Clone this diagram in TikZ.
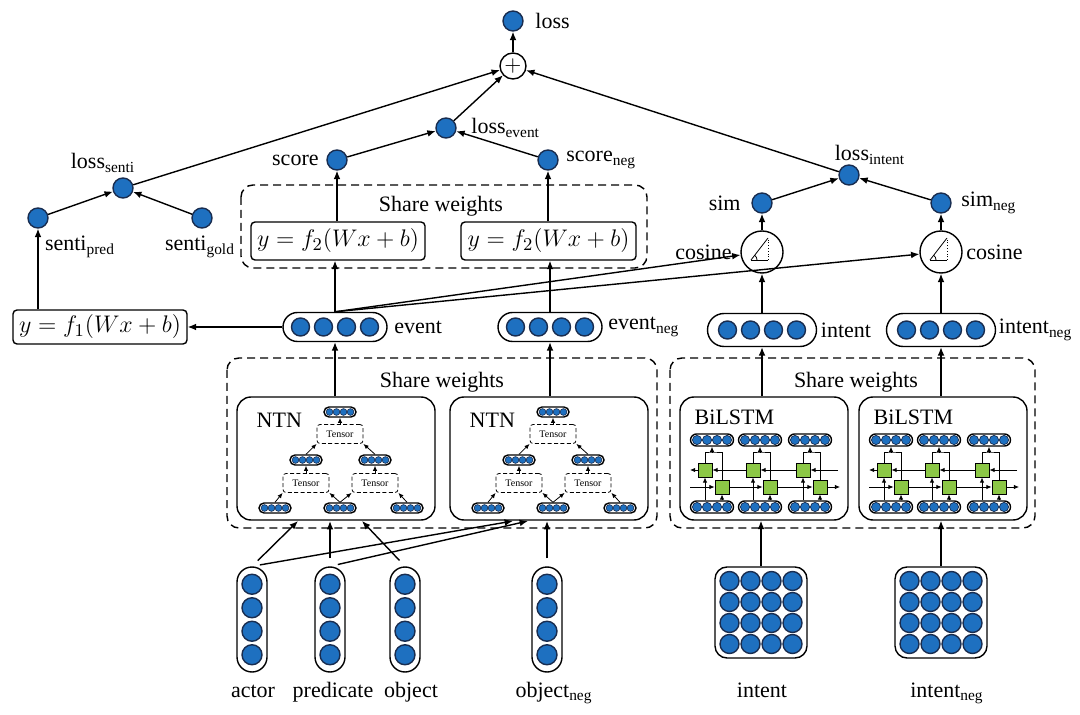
\documentclass[tikz,border=0pt]{standalone}
\usepackage{fontspec}
\setmainfont{Liberation Serif}
\usepackage{tikz}
\usetikzlibrary{arrows.meta,positioning,calc,shapes.misc}
\definecolor{unitblue}{RGB}{30,112,192}
\definecolor{unitedge}{RGB}{25,45,80}
\definecolor{gategreen}{RGB}{140,200,70}

\newcommand{\hvec}[6]{%
  \node[pill, minimum width=#5, minimum height=#6] (#1) at #2 {};
  \foreach \k in {-1.5,-0.5,0.5,1.5}
    \node[unit, #4] at ($(#1)+(\k*#3,0)$) {};
}
\newcommand{\vvec}[2]{%
  \node[draw, fill=white, rounded corners=7.5pt, minimum width=15pt, minimum height=52.5pt, inner sep=0pt] (#1) at #2 {};
  \foreach \k in {-1.5,-0.5,0.5,1.5}
    \node[unit] at ($(#1)+(0,\k*23.5)$) {};
}
\newcommand{\umat}[2]{%
  \node[draw, fill=white, rounded corners=6pt, minimum width=46pt, minimum height=45.5pt, inner sep=0pt] (#1) at #2 {};
  \foreach \i in {-1.5,-0.5,0.5,1.5}
    \foreach \j in {-1.5,-0.5,0.5,1.5}
      \node[unit, minimum size=9.5pt] at ($(#1)+(\i*21,\j*21)$) {};
}

\begin{document}
\begin{tikzpicture}[x=0.5pt, y=-0.5pt, line width=0.7pt, -{Latex[length=4.2pt,width=3.4pt]},
    font=\fontsize{11}{13}\selectfont]
  \tikzstyle{unit} = [circle, draw=unitedge, fill=unitblue, inner sep=0pt, minimum size=10pt]
  \tikzstyle{op} = [circle, draw, fill=white, inner sep=0pt]
  \tikzstyle{pill} = [rounded rectangle, draw, fill=white, inner sep=0pt]
  \tikzstyle{word} = [inner sep=1pt]
  \tikzstyle{func} = [draw, rounded corners=2pt, inner sep=0pt, minimum height=19pt, font=\fontsize{12.5}{15}\selectfont]
  \tikzstyle{block} = [draw, rounded corners=7pt, minimum height=61.5pt]
  \tikzstyle{share} = [-, draw, dash pattern=on 4pt off 2.5pt, rounded corners=6pt]
  \tikzstyle{tensor} = [draw, dash pattern=on 2pt off 1.2pt, rounded corners=1.5pt, minimum width=23pt, minimum height=9.5pt, inner sep=0pt, font=\fontsize{5}{6}\selectfont, line width=0.4pt]
  \tikzstyle{gate} = [draw, fill=gategreen, minimum size=7pt, inner sep=0pt, line width=0.4pt]
  \tikzstyle{small} = [line width=0.4pt, -{Latex[length=2.6pt,width=2.2pt]}]

  \useasboundingbox (0,0) rectangle (1080,715);

  % losses
  \node[unit] (loss) at (513,21) {};
  \node[word, right=4.5pt of loss] (losslab) {loss};
  \node[op, minimum size=13pt] (plus) at (513,66) {$+$};
  \node[unit] (lossevent) at (446,128) {};
  \node[word, right=6pt of lossevent] (lossevlab) {loss\textsubscript{event}};
  \node[unit] (score) at (337,160) {};
  \node[word, left=2.5pt of score] (scorelab) {score};
  \node[unit] (scoreneg) at (548,160) {};
  \node[word, right=2.5pt of scoreneg] (scoreneglab) {score\textsubscript{neg}};
  \node[unit] (losssenti) at (123,188) {};
  \node[word] (losssentilab) at (103,163) {loss\textsubscript{senti}};
  \node[unit] (sentipred) at (38,218) {};
  \node[word] (sentipredlab) at (80,247) {senti\textsubscript{pred}};
  \node[unit] (sentigold) at (202,218) {};
  \node[word] (sentigoldlab) at (200,247) {senti\textsubscript{gold}};
  \node[unit] (lossintent) at (849,175) {};
  \node[word] (lossintentlab) at (870,155) {loss\textsubscript{intent}};
  \node[unit] (sim) at (762,203) {};
  \node[word, left=4pt of sim] (simlab) {sim};
  \node[unit] (simneg) at (941,203) {};
  \node[word, right=3.5pt of simneg] (simneglab) {sim\textsubscript{neg}};

  % cosine
  \node[op, minimum size=21pt] (cosl) at (762,252) {};
  \node[op, minimum size=21pt] (cosr) at (941,252) {};
  \node[word, left=3pt of cosl] (coslab) {cosine};
  \node[word, right=0.5pt of cosr] (cosrlab) {cosine};
  \foreach \c in {cosl,cosr} {
    \draw[-, line width=0.4pt] ($(\c)+(-11,8)$) -- ($(\c)+(6,8)$);
    \draw[-, line width=0.4pt] ($(\c)+(-11,8)$) -- ($(\c)+(6,-14)$);
    \draw[-, line width=0.4pt, densely dotted] ($(\c)+(6,8)$) -- ($(\c)+(6,-14)$);
    \draw[-, line width=0.4pt] ($(\c)+(-5,8)$) arc[start angle=0, end angle=-52, radius=6];
  }

  % scoring layers
  \draw[share] (241,185) rectangle (647,268);
  \node[word] (swtop) at (441,206) {Share weights};
  \node[func, minimum width=87pt] (fl) at (338,241) {$y=f_2(Wx+b)$};
  \node[func, minimum width=87.5pt] (fr) at (548.5,241) {$y=f_2(Wx+b)$};
  \node[func, minimum width=87pt, minimum height=17pt] (fone) at (100,327) {$y=f_1(Wx+b)$};

  % embeddings
  \hvec{event}{(335,327)}{23}{minimum size=9pt}{52pt}{14.5pt}
  \node[word, right=2pt of event] (eventlab) {event};
  \hvec{eventneg}{(550,327)}{23}{minimum size=9pt}{52pt}{14.5pt}
  \node[word, right=1.5pt of eventneg] (eventneglab) {event\textsubscript{neg}};
  \hvec{intent}{(762,330)}{23}{minimum size=9pt}{54.5pt}{16.5pt}
  \node[word, right=0.5pt of intent] (intentlab) {intent};
  \hvec{intentneg}{(941,330)}{23}{minimum size=9pt}{54.5pt}{16.5pt}
  \node[word, right=0pt of intentneg] (intentneglab) {intent\textsubscript{neg}};

  \draw (plus) -- (loss);
  \draw (losssenti) -- (plus);
  \draw (lossevent) -- (plus);
  \draw (lossintent) -- (plus);
  \draw (score) -- (lossevent);
  \draw (scoreneg) -- (lossevent);
  \draw (sentipred) -- (losssenti);
  \draw (sentigold) -- (losssenti);
  \draw (fl.north -| score) -- (score);
  \draw (fr.north -| scoreneg) -- (scoreneg);
  \draw (fone.north -| sentipred) -- (sentipred);
  \draw (event.west) -- (fone.east);
  \draw (event.north) -- (event.north |- fl.south);
  \draw (eventneg.north) -- (eventneg.north |- fr.south);
  \draw (event.north) -- (cosl);
  \draw (event.north) -- (cosr);
  \draw (intent) -- (cosl);
  \draw (intentneg) -- (cosr);
  \draw (cosl) -- (sim);
  \draw (cosr) -- (simneg);
  \draw (sim) -- (lossintent);
  \draw (simneg) -- (lossintent);

  % event encoders
  \draw[share] (227,358) rectangle (657,528);
  \node[word] (swleft) at (442,382) {Share weights};
  \foreach \o/\n in {0/a,213/b} {
    \node[block, minimum width=99pt] (ntn\n) at (336+\o,458.5) {};
    \node[word, anchor=west] (ntnlab\n) at (254+\o,420) {NTN};
    \hvec{n\n-tv}{(340+\o,412)}{7}{minimum size=3.4pt, line width=0.3pt}{16pt}{5pt}
    \hvec{n\n-ml}{(306+\o,460)}{7}{minimum size=3.4pt, line width=0.3pt}{16pt}{5pt}
    \hvec{n\n-mr}{(375+\o,460)}{7}{minimum size=3.4pt, line width=0.3pt}{16pt}{5pt}
    \hvec{n\n-bl}{(275+\o,508)}{7}{minimum size=3.4pt, line width=0.3pt}{16pt}{5pt}
    \hvec{n\n-bm}{(340+\o,508)}{7}{minimum size=3.4pt, line width=0.3pt}{16pt}{5pt}
    \hvec{n\n-br}{(407+\o,508)}{7}{minimum size=3.4pt, line width=0.3pt}{16pt}{5pt}
    \node[tensor] (n\n-tt) at (340+\o,434) {Tensor};
    \node[tensor] (n\n-tl) at (306+\o,483) {Tensor};
    \node[tensor] (n\n-tr) at (375+\o,483) {Tensor};
    \draw[small] (n\n-bl.north) -- (n\n-tl.south west);
    \draw[small] (n\n-bm.north) -- (n\n-tl.south east);
    \draw[small] (n\n-bm.north) -- (n\n-tr.south west);
    \draw[small] (n\n-br.north) -- (n\n-tr.south east);
    \draw[small] (n\n-tl) -- (n\n-ml);
    \draw[small] (n\n-tr) -- (n\n-mr);
    \draw[small] (n\n-ml.north) -- (n\n-tt.south west);
    \draw[small] (n\n-mr.north) -- (n\n-tt.south east);
    \draw[small] (n\n-tt) -- (n\n-tv);
  }
  \draw (event |- ntna.north) -- (event);
  \draw (eventneg |- ntnb.north) -- (eventneg);

  % intent encoders
  \draw[share] (670,358) rectangle (1035,528);
  \node[word] (swright) at (856,382) {Share weights};
  \foreach \o/\n in {0/a,179/b} {
    \node[block, minimum width=84pt] (lstm\n) at (764+\o,458.5) {};
    \node[word, anchor=west] (lstmlab\n) at (692+\o,417) {BiLSTM};
    \foreach \x [count=\i] in {712,760,810} {
      \hvec{l\n-up\i}{(\x+\o,440)}{10}{minimum size=4.6pt, line width=0.35pt}{21.5pt}{6pt}
      \hvec{l\n-dn\i}{(\x+\o,507)}{10}{minimum size=4.6pt, line width=0.35pt}{21.5pt}{6pt}
      \node[gate] (l\n-bw\i) at (\x+\o-7,470) {};
      \node[gate] (l\n-fw\i) at (\x+\o+10,487) {};
      \coordinate (l\n-j\i) at (\x+\o,452);
      \draw[small] (l\n-dn\i.north -| l\n-bw\i) -- (l\n-bw\i);
      \draw[small] (l\n-dn\i.north -| l\n-fw\i) -- (l\n-fw\i);
      \draw[-, line width=0.4pt] (l\n-bw\i) |- (l\n-j\i) -| (l\n-fw\i);
      \draw[small] (l\n-j\i) -- (l\n-up\i);
    }
    \coordinate (l\n-be) at (838+\o,470);
    \coordinate (l\n-bs) at (690+\o,470);
    \coordinate (l\n-fs) at (690+\o,487);
    \coordinate (l\n-fe) at (840+\o,487);
    \draw[small] (l\n-be) -- (l\n-bw3);
    \draw[small] (l\n-bw3) -- (l\n-bw2);
    \draw[small] (l\n-bw2) -- (l\n-bw1);
    \draw[small] (l\n-bw1) -- (l\n-bs);
    \draw[small] (l\n-fs) -- (l\n-fw1);
    \draw[small] (l\n-fw1) -- (l\n-fw2);
    \draw[small] (l\n-fw2) -- (l\n-fw3);
    \draw[small] (l\n-fw3) -- (l\n-fe);
  }
  \draw (intent |- lstma.north) -- (intent);
  \draw (intentneg |- lstmb.north) -- (intentneg);

  % inputs
  \vvec{actor}{(252,619.5)}
  \vvec{predicate}{(330,619.5)}
  \vvec{object}{(405,619.5)}
  \vvec{objneg}{(547,619.5)}
  \umat{intentm}{(761,612.5)}
  \umat{intentnegm}{(941,612.5)}
  \node[word, anchor=base] (actorlab) at (253,697) {actor};
  \node[word, anchor=base] (predicatelab) at (333,697) {predicate};
  \node[word, anchor=base] (objectlab) at (411,697) {object};
  \node[word, anchor=base] (objneglab) at (554,697) {object\textsubscript{neg}};
  \node[word, anchor=base] (intentmlab) at (762,697) {intent};
  \node[word, anchor=base] (intentnegmlab) at (947,697) {intent\textsubscript{neg}};

  \coordinate (na1) at (298,521);
  \coordinate (na2) at (330,521);
  \coordinate (na3) at (362,521);
  \coordinate (nb1) at (513,521);
  \coordinate (nb2) at (528,521);
  \coordinate (nb3) at (547,521);
  \draw[shorten <=4pt] (actor.north) -- (na1);
  \draw[shorten <=4pt] (actor.north) -- (nb1);
  \draw[shorten <=4pt] (predicate.north) -- (na2);
  \draw[shorten <=4pt] (predicate.north) -- (nb2);
  \draw[shorten <=4pt] (object.north) -- (na3);
  \draw[shorten <=4pt] (objneg.north) -- (nb3);
  \draw (intentm.north) -- (intentm.north |- lstma.south);
  \draw (intentnegm.north) -- (intentnegm.north |- lstmb.south);
\end{tikzpicture}
\end{document}
